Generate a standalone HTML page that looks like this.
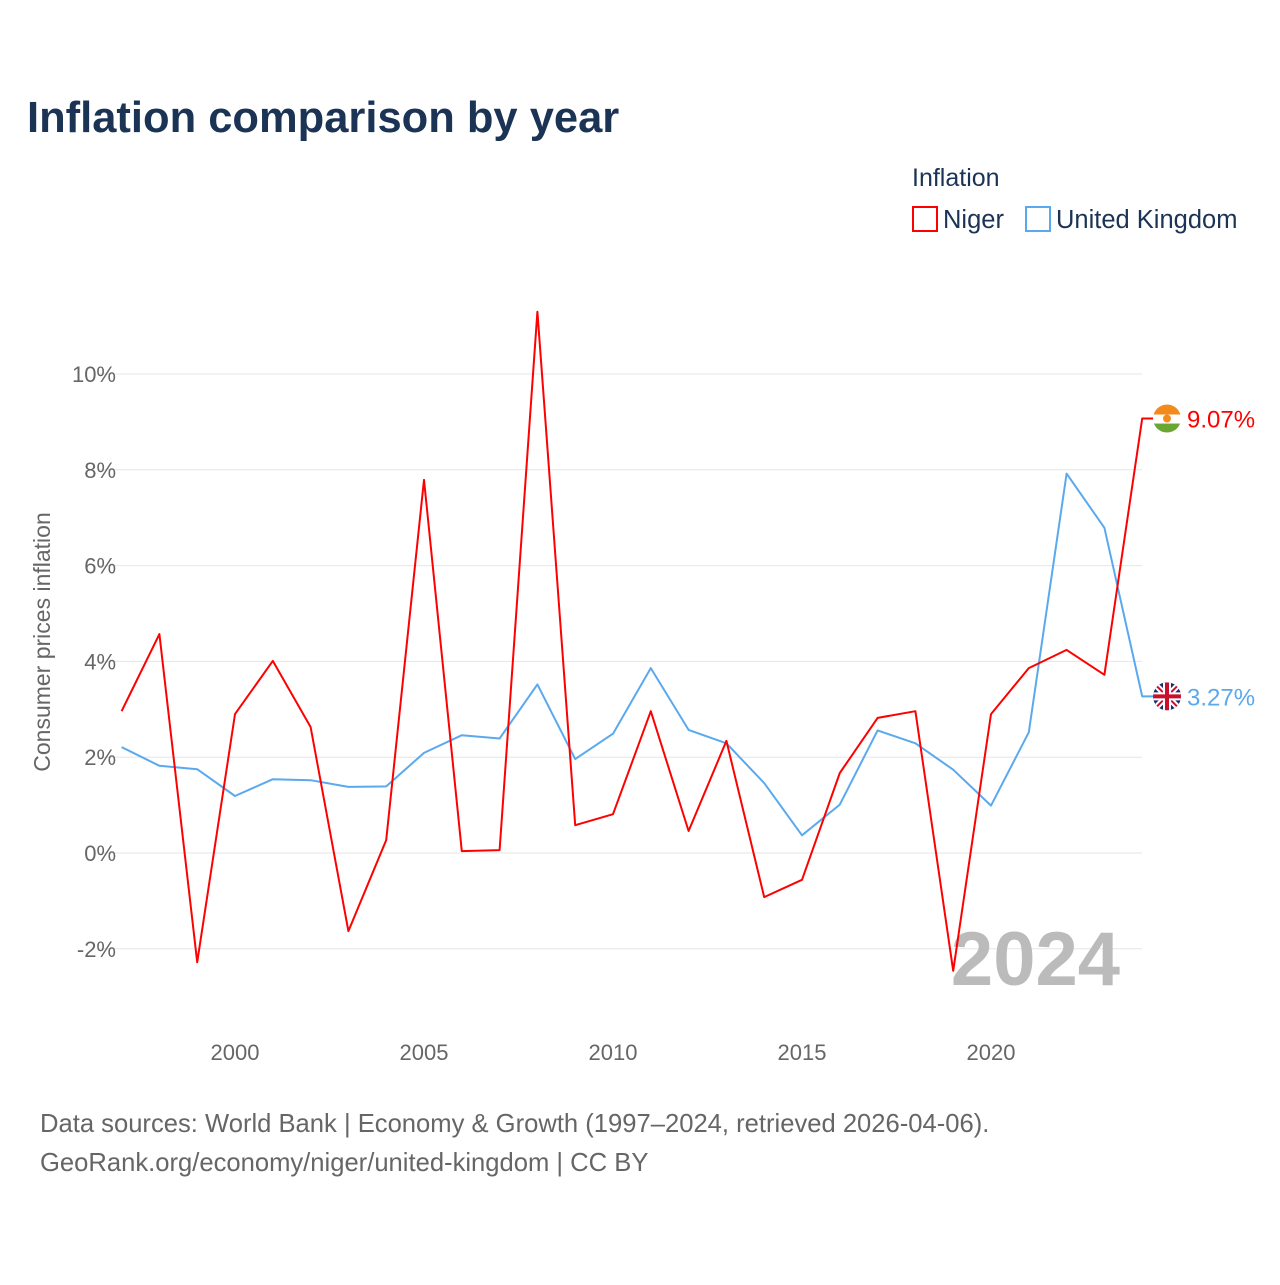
<!DOCTYPE html>
<html><head><meta charset="utf-8"><style>
body{margin:0;background:#fff;width:1280px;height:1280px;overflow:hidden;font-family:"Liberation Sans",sans-serif}
</style></head><body>
<svg width="1280" height="1280" xmlns="http://www.w3.org/2000/svg" font-family="Liberation Sans, sans-serif">
<text x="27" y="132" font-size="43.5" font-weight="bold" fill="#1b3354">Inflation comparison by year</text>
<text x="912" y="186" font-size="25" fill="#1b3354">Inflation</text>
<g><rect x="913" y="207" width="24" height="24" fill="none" stroke="#ff0000" stroke-width="2"/><text x="943" y="228" font-size="25.5" fill="#1b3354">Niger</text></g>
<g><rect x="1026" y="207" width="24" height="24" fill="none" stroke="#5aa9ee" stroke-width="2"/><text x="1056" y="228" font-size="25.5" fill="#1b3354">United Kingdom</text></g>
<g id="grid"></g><g id="yt"></g><g id="xt"></g>
<text x="0" y="0" transform="translate(50,642) rotate(-90)" text-anchor="middle" font-size="23" fill="#666">Consumer prices inflation</text>
<text x="1120" y="985" text-anchor="end" font-size="76" font-weight="bold" fill="#bbb">2024</text>
<g id="series"></g>
<text x="40" y="1132" font-size="25.6" fill="#666">Data sources: World Bank | Economy &amp; Growth (1997–2024, retrieved 2026-04-06).</text>
<text x="40" y="1171" font-size="25.6" fill="#666">GeoRank.org/economy/niger/united-kingdom | CC BY</text>
</svg>
<script>
const years=[1997,1998,1999,2000,2001,2002,2003,2004,2005,2006,2007,2008,2009,2010,2011,2012,2013,2014,2015,2016,2017,2018,2019,2020,2021,2022,2023,2024];
const niger=[2.96,4.57,-2.28,2.90,4.01,2.63,-1.63,0.27,7.79,0.04,0.06,11.3,0.58,0.81,2.96,0.46,2.34,-0.92,-0.56,1.67,2.82,2.96,-2.46,2.90,3.86,4.24,3.72,9.07];
const uk=[2.21,1.82,1.75,1.19,1.54,1.52,1.38,1.39,2.09,2.46,2.39,3.52,1.96,2.49,3.86,2.57,2.29,1.46,0.37,1.01,2.56,2.29,1.74,0.99,2.52,7.92,6.79,3.27];
const yTicks=[-2,0,2,4,6,8,10];
const xTicks=[2000,2005,2010,2015,2020];
const NS="http://www.w3.org/2000/svg";
const x=v=>235+(v-2000)*37.8;
const y=v=>853-v*47.9;
function mk(t,a,p){const e=document.createElementNS(NS,t);for(const k in a)e.setAttribute(k,a[k]);p.appendChild(e);return e;}
const grid=document.getElementById('grid'),yt=document.getElementById('yt'),xt=document.getElementById('xt'),ser=document.getElementById('series');
yTicks.forEach(v=>{
 const l=mk('line',{x1:98,x2:1142,y1:y(v),y2:y(v),stroke:'#e6e6e6','stroke-width':1},grid);
 
 
 const t=mk('text',{x:116,y:y(v)+8,'text-anchor':'end','font-size':22,fill:'#666'},yt);
 t.textContent=v+'%';
 
 
});
xTicks.forEach(v=>{
 const t=mk('text',{x:x(v),y:1060,'text-anchor':'middle','font-size':22,fill:'#666'},xt);
 t.textContent=v;
 
 
});
function series(vals,color,name,flag){
 const last=vals[vals.length-1];
 let d=vals.map((v,i)=>(i?'L':'M')+x(years[i]).toFixed(1)+' '+y(v).toFixed(1)).join(' ');
 d+=' L1156 '+y(last).toFixed(1);
 const p=mk('path',{d:d,fill:'none',stroke:color,'stroke-width':2,'stroke-linejoin':'round'},ser);
 
 
 const g=mk('g',{transform:'translate(1167,'+y(last)+')'},ser);
 
 
 if(flag==='ne'){
  mk('clipPath',{id:'cne'},g).appendChild(document.createElementNS(NS,'circle')).setAttribute('r',14);
  const gg=mk('g',{'clip-path':'url(#cne)'},g);
  mk('rect',{x:-14,y:-14,width:28,height:10,fill:'#f28a1c'},gg);
  mk('rect',{x:-14,y:-4,width:28,height:9,fill:'#fff'},gg);
  mk('rect',{x:-14,y:5,width:28,height:10,fill:'#6aa632'},gg);
  mk('circle',{r:4,fill:'#f28a1c'},gg);
 } else {
  mk('clipPath',{id:'cuk'},g).appendChild(document.createElementNS(NS,'circle')).setAttribute('r',14);
  const gg=mk('g',{'clip-path':'url(#cuk)'},g);
  mk('rect',{x:-14,y:-14,width:28,height:28,fill:'#1a2a6c'},gg);
  mk('path',{d:'M-14 -14L14 14M14 -14L-14 14',stroke:'#fff','stroke-width':6},gg);
  mk('path',{d:'M-14 -14L14 14M14 -14L-14 14',stroke:'#c8102e','stroke-width':2},gg);
  mk('path',{d:'M0 -14V14M-14 0H14',stroke:'#fff','stroke-width':8},gg);
  mk('path',{d:'M0 -14V14M-14 0H14',stroke:'#c8102e','stroke-width':4},gg);
 }
 const t=mk('text',{x:1187,y:y(last)+9,'font-size':24,fill:color},ser);
 t.textContent=last.toFixed(2)+'%';
 
 
}
series(uk,'#5aa9ee','uk','uk');
series(niger,'#ff0000','niger','ne');
</script>
</body></html>
